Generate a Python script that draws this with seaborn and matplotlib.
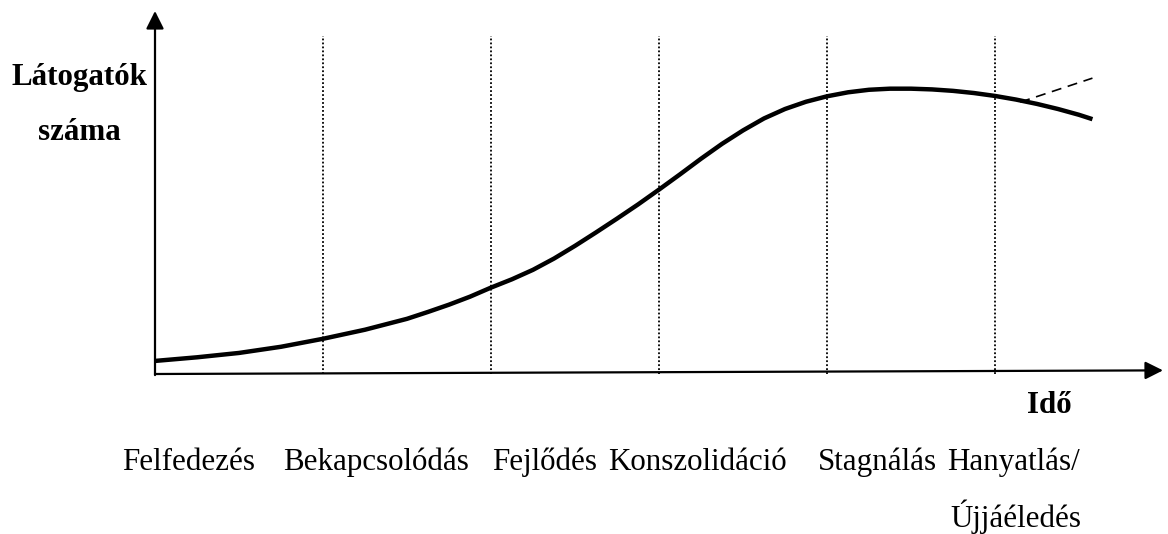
import numpy as np
import pandas as pd
import matplotlib
matplotlib.use('Agg')
import matplotlib.pyplot as plt
import seaborn as sns

# Tourism area life cycle - curve (x in stage units, y relative)
stage_x = [0, 0.25, 0.5, 0.75, 1.0, 1.25, 1.5, 1.625, 1.75, 1.875,
           2.0, 2.125, 2.25, 2.375, 2.5, 2.625, 2.75, 2.875,
           3.0, 3.125, 3.25, 3.375, 3.5, 3.625, 3.75, 3.875,
           4.0, 4.125, 4.25, 4.375, 4.5, 4.625, 4.75, 4.875,
           5.0, 5.125, 5.25, 5.375, 5.5, 5.58]
visitors = [3.6, 4.6, 5.8, 7.5, 9.7, 12.2, 15.2, 17.1, 19.1, 21.3,
            23.8, 26.1, 28.7, 31.8, 35.3, 39.0, 42.8, 46.7,
            50.8, 55.0, 59.3, 63.4, 67.1, 70.4, 73.0, 75.0,
            76.5, 77.6, 78.3, 78.6, 78.6, 78.4, 78.0, 77.4,
            76.6, 75.6, 74.4, 73.0, 71.4, 70.2]
# rejuvenation branch (dashed)
rejuv_x = [5.15, 5.58]
rejuv_y = [74.9, 81.5]
boundaries = [1, 2, 3, 4, 5]

stage_labels = ['Felfedezés', 'Bekapcsolódás', 'Fejlődés', 'Konszolidáció', 'Stagnálás', 'Hanyatlás/']
stage_label_px = [122, 283, 492, 608, 818, 947]
second_line = 'Újjáéledés'

sns.set_theme(style='white')
plt.rcParams['font.family'] = ['Liberation Serif', 'DejaVu Serif']
plt.rcParams['text.color'] = 'black'

W, H = 1168, 534
fig = plt.figure(figsize=(W / 100, H / 100), dpi=100)
left, right, top, bottom = 155, 1163, 11, 374
ax = fig.add_axes([left / W, 1 - bottom / H, (right - left) / W, (bottom - top) / H])
ax.set_xlim(0, 6)
ax.set_ylim(0, 100)
ax.axis('off')

df = pd.DataFrame({'x': stage_x, 'y': visitors})
sns.lineplot(data=df, x='x', y='y', ax=ax, color='black', lw=3.2, sort=False,
             solid_capstyle='butt', solid_joinstyle='round')
ax.plot(rejuv_x, rejuv_y, color='black', lw=1.2, dashes=(6, 4))

ax.vlines(boundaries, 0, 93, colors='black', linestyles=(0, (1, 1.2)), lw=1.3)

arrow = dict(arrowstyle='-|>,head_length=0.54,head_width=0.27', mutation_scale=20,
             lw=1.6, color='black', shrinkA=0, shrinkB=0)
ax.annotate('', xy=(0, 100), xytext=(0, -0.3), arrowprops=arrow, annotation_clip=False)
ax.annotate('', xy=(6, 1.0), xytext=(0, 0), arrowprops=arrow, annotation_clip=False)

fs = 22.3
def ftext(px, py, s, **kw):
    fig.text(px / W, 1 - py / H, s, fontsize=fs, va='baseline', color='black', **kw)

ftext(79, 85, 'Látogatók', fontweight='bold', ha='center')
ftext(79, 140, 'száma', fontweight='bold', ha='center')
ftext(1027, 413, 'Idő', fontweight='bold')

for lab, px in zip(stage_labels, stage_label_px):
    ftext(px, 470, lab)
ftext(1081, 527, second_line, ha='right')

fig.savefig('out.png', dpi=100, facecolor='white')
